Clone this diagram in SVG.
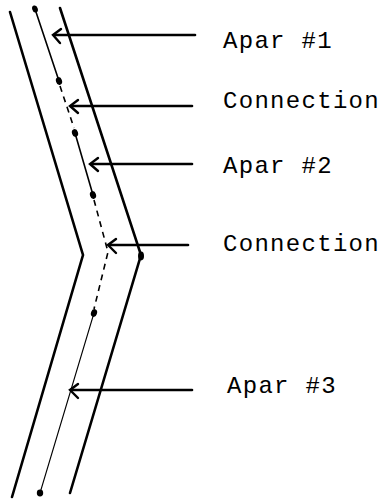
<svg xmlns="http://www.w3.org/2000/svg" width="383" height="503" viewBox="0 0 383 503">
  <style>
    .wall { fill: none; stroke: #000; stroke-width: 2.6; stroke-linecap: round; stroke-linejoin: miter; }
    .apar { fill: none; stroke: #000; stroke-width: 1.6; stroke-linecap: round; }
    .apar-thin { fill: none; stroke: #000; stroke-width: 1.1; stroke-linecap: round; }
    .conn { fill: none; stroke: #000; stroke-width: 1.6; stroke-dasharray: 6 5; }
    .dot { fill: #000; }
    .arrow { fill: none; stroke: #000; stroke-width: 2.6; stroke-linecap: round; }
    .head { fill: none; stroke: #000; stroke-width: 2.4; stroke-linecap: round; stroke-linejoin: miter; }
    .label { font-family: "Liberation Mono", "Courier New", monospace; font-size: 24px; letter-spacing: 1.3px; fill: #000; }
  </style>

  <!-- channel walls -->
  <g id="walls">
    <polyline class="wall" points="10,12 83,255 12,497"/>
    <polyline class="wall" points="60,8 141,255 70,493"/>
  </g>

  <!-- apar segments and their end dots -->
  <g id="apar1">
    <line class="apar" x1="35" y1="9" x2="59" y2="81"/>
    <ellipse class="dot" cx="35" cy="9" rx="2.8" ry="3.6" transform="rotate(-18 35 9)"/>
    <ellipse class="dot" cx="59" cy="81" rx="3" ry="4" transform="rotate(-18 59 81)"/>
  </g>
  <g id="connection1">
    <line class="conn" x1="60" y1="86" x2="74" y2="128"/>
  </g>
  <g id="apar2">
    <line class="apar" x1="75" y1="133" x2="93" y2="195"/>
    <ellipse class="dot" cx="75" cy="133" rx="3" ry="4" transform="rotate(-18 75 133)"/>
    <ellipse class="dot" cx="93" cy="195" rx="3" ry="4" transform="rotate(-18 93 195)"/>
  </g>
  <g id="connection2">
    <polyline class="conn" points="94,200 108,252 94,309"/>
  </g>
  <g id="apar3">
    <line class="apar-thin" x1="94" y1="313" x2="40" y2="493"/>
    <ellipse class="dot" cx="94" cy="313" rx="3" ry="4" transform="rotate(18 94 313)"/>
    <ellipse class="dot" cx="40" cy="493" rx="3.2" ry="3.4"/>
  </g>
  <g id="bend-dot">
    <ellipse class="dot" cx="141" cy="256" rx="3" ry="4.4"/>
  </g>

  <!-- pointer arrows -->
  <g id="connectors">
    <line class="arrow" x1="195" y1="35" x2="54" y2="35"/>
    <polyline class="head" points="61,29 53,35 60,43"/>
    <line class="arrow" x1="192" y1="106" x2="71" y2="106"/>
    <polyline class="head" points="78,100 70,106 78,113"/>
    <line class="arrow" x1="192" y1="164" x2="91" y2="164"/>
    <polyline class="head" points="98,158 90,164 98,171"/>
    <line class="arrow" x1="188" y1="245" x2="109" y2="245"/>
    <polyline class="head" points="116,239 108,245 116,253"/>
    <line class="arrow" x1="192" y1="390" x2="71" y2="390"/>
    <polyline class="head" points="78,384 70,390 78,398"/>
  </g>

  <!-- labels -->
  <g id="labels">
    <text class="label" x="223" y="48">Apar #1</text>
    <text class="label" x="223" y="108">Connection</text>
    <text class="label" x="223" y="173">Apar #2</text>
    <text class="label" x="223" y="251">Connection</text>
    <text class="label" x="227" y="393">Apar #3</text>
  </g>
</svg>
